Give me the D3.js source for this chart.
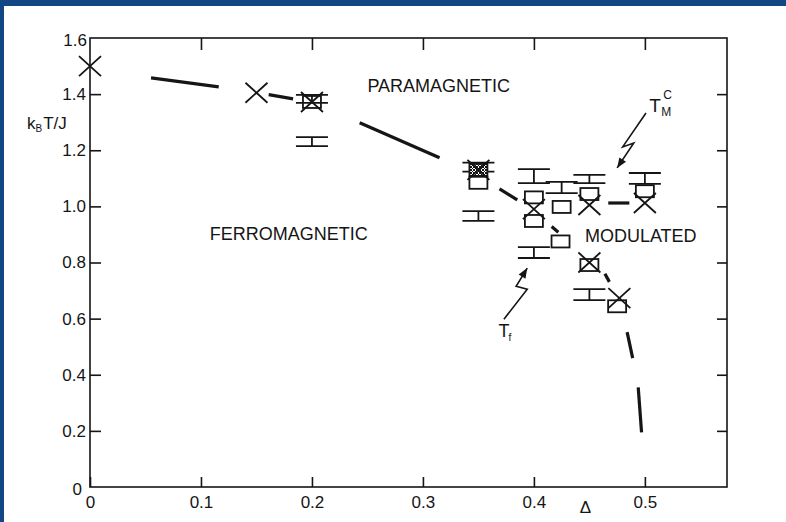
<!DOCTYPE html>
<html>
<head>
<meta charset="utf-8">
<script src="https://cdn.jsdelivr.net/npm/d3@7"></script>
<style>
  body { margin: 0; background: #124785; }
  svg { display: block; }
  text { font-family: "Liberation Sans", Arial, sans-serif; fill: #151515; }
</style>
</head>
<body>
<div id="chart"></div>
<script>
// axis ticks
var xTicks = [0, 0.1, 0.2, 0.3, 0.4, 0.5];
var xTickLabels = ["0", "0.1", "0.2", "0.3", "0.4", "0.5"];
var yTicks = [0, 0.2, 0.4, 0.6, 0.8, 1.0, 1.2, 1.4, 1.6];
var yTickLabels = ["0", "0.2", "0.4", "0.6", "0.8", "1.0", "1.2", "1.4", "1.6"];

// crosses (Delta, kT/J)
var crossD = [0, 0.15, 0.2, 0.35, 0.4, 0.45, 0.45, 0.477, 0.5];
var crossT = [1.50, 1.405, 1.372, 1.13, 0.99, 1.005, 0.80, 0.673, 1.012];

// squares (hatched = dense square at 0.35)
var squareD = [0.2, 0.35, 0.35, 0.4, 0.4, 0.425, 0.424, 0.45, 0.45, 0.475, 0.5];
var squareT = [1.372, 1.13, 1.084, 1.032, 0.948, 0.998, 0.875, 1.044, 0.791, 0.644, 1.054];
var squareHatched = [false, true, false, false, false, false, false, false, false, false, false];

// error bars
var errD = [0.2, 0.2, 0.35, 0.35, 0.4, 0.4, 0.425, 0.45, 0.45, 0.5];
var errLo = [1.369, 1.215, 1.124, 0.948, 1.083, 0.816, 1.047, 1.083, 0.666, 1.080];
var errHi = [1.397, 1.247, 1.156, 0.983, 1.133, 0.855, 1.087, 1.112, 0.705, 1.119];

// dashed phase boundary pieces [d1, T1, d2, T2]
var boundary = [
  [0.055, 1.458, 0.116, 1.426],
  [0.161, 1.398, 0.183, 1.383],
  [0.243, 1.298, 0.315, 1.173],
  [0.369, 1.062, 0.385, 1.023],
  [0.416, 0.928, 0.422, 0.908],
  [0.464, 0.760, 0.468, 0.731],
  [0.467, 1.012, 0.486, 1.012],
  [0.484, 0.552, 0.489, 0.459],
  [0.494, 0.355, 0.497, 0.195]
];

// region labels
var regionNames = ["PARAMAGNETIC", "FERROMAGNETIC", "MODULATED"];
var regionD = [0.250, 0.108, 0.446];
var regionT = [1.408, 0.880, 0.873];

// lightning arrows
var arrowTM = [[0.501, 1.333], [0.480, 1.212], [0.490, 1.226], [0.475, 1.137]];
var arrowTf = [[0.373, 0.598], [0.394, 0.705], [0.384, 0.715], [0.394, 0.780]];

var svgWidth = 786;
var svgHeight = 522;
var margin = { top: 38, right: 59, bottom: 35, left: 90 };
var width = svgWidth - margin.left - margin.right;
var height = svgHeight - margin.top - margin.bottom;

var svg = d3.select("#chart")
  .append("svg")
  .attr("width", svgWidth)
  .attr("height", svgHeight);

// hatch pattern for the dense square
var pat = svg.append("defs").append("pattern")
  .attr("id", "hatch").attr("patternUnits", "userSpaceOnUse")
  .attr("width", 3).attr("height", 3);
pat.append("rect").attr("width", 3).attr("height", 3).attr("fill", "#fff");
pat.append("path").attr("d", "M0,0L3,3M3,0L0,3").attr("stroke", "#151515").attr("stroke-width", 1);

// blue slide frame + white page
svg.append("rect").attr("width", svgWidth).attr("height", svgHeight).attr("fill", "#124785");
svg.append("rect").attr("x", 4).attr("y", 6)
  .attr("width", svgWidth - 4).attr("height", svgHeight - 6).attr("fill", "#fff");

var chartGroup = svg.append("g")
  .attr("transform", `translate(${margin.left}, ${margin.top})`);

var xScale = d3.scaleLinear().domain([0, 0.574]).range([0, width]);
var yScale = d3.scaleLinear().domain([0, 1.6]).range([height, 0]);

var ink = "#151515";

// axes, ticks pointing inward
var bottomAxis = d3.axisBottom(xScale).tickValues(xTicks).tickSize(-10).tickSizeOuter(0)
  .tickPadding(9).tickFormat((d, i) => xTickLabels[i]);
var topAxis = d3.axisTop(xScale).tickValues(xTicks.slice(1)).tickSize(-12).tickSizeOuter(0)
  .tickFormat("");
var leftAxis = d3.axisLeft(yScale).tickValues(yTicks.slice(1, -1)).tickSize(-11).tickSizeOuter(0)
  .tickPadding(4).tickFormat((d, i) => yTickLabels[i + 1]);
var rightAxis = d3.axisRight(yScale).tickValues(yTicks.slice(1, -1)).tickSize(-10).tickSizeOuter(0)
  .tickFormat("");

function styleAxis(g) {
  g.select(".domain").remove();
  g.selectAll("line").attr("stroke", ink).attr("stroke-width", 1.6);
  g.selectAll("text").attr("font-size", 17).attr("fill", ink)
    .attr("font-family", "'Liberation Sans', Arial, sans-serif");
}

chartGroup.append("g").attr("transform", `translate(0, ${height})`).call(bottomAxis).call(styleAxis);
chartGroup.append("g").call(topAxis).call(styleAxis);
chartGroup.append("g").call(leftAxis).call(styleAxis);
chartGroup.append("g").attr("transform", `translate(${width}, 0)`).call(rightAxis).call(styleAxis);

// y labels for 0 and 1.6 at the corners
chartGroup.append("text").attr("x", -8).attr("y", yScale(0) + 8)
  .attr("text-anchor", "end").attr("font-size", 17).text(yTickLabels[0]);
chartGroup.append("text").attr("x", -3).attr("y", yScale(1.6) + 8)
  .attr("text-anchor", "end").attr("font-size", 17).text(yTickLabels[8]);

// frame
chartGroup.append("rect")
  .attr("width", width).attr("height", height)
  .attr("fill", "none").attr("stroke", ink).attr("stroke-width", 1.6);

// axis titles
chartGroup.append("text")
  .attr("x", xScale(0.4465)).attr("y", height + 26)
  .attr("text-anchor", "middle").attr("font-size", 17).text("Δ");

var yTitle = chartGroup.append("text")
  .attr("x", -63).attr("y", yScale(1.4) + 35).attr("font-size", 17);
yTitle.append("tspan").text("k");
yTitle.append("tspan").attr("font-size", 10).attr("dy", 3).text("B");
yTitle.append("tspan").attr("dy", -3).attr("dx", 1).text("T/J");

// dashed boundary
chartGroup.selectAll(".seg")
  .data(boundary)
  .enter()
  .append("line")
  .attr("class", "seg")
  .attr("x1", d => xScale(d[0])).attr("y1", d => yScale(d[1]))
  .attr("x2", d => xScale(d[2])).attr("y2", d => yScale(d[3]))
  .attr("stroke", ink).attr("stroke-width", 3.2);

// error bars
var errGroup = chartGroup.selectAll(".err")
  .data(errD)
  .enter()
  .append("g")
  .attr("class", "err")
  .attr("transform", d => `translate(${xScale(d)}, 0)`);

errGroup.append("line")
  .attr("y1", (d, i) => yScale(errLo[i])).attr("y2", (d, i) => yScale(errHi[i]))
  .attr("stroke", ink).attr("stroke-width", 1.8);
errGroup.append("line")
  .attr("x1", -16).attr("x2", 16)
  .attr("y1", (d, i) => yScale(errLo[i])).attr("y2", (d, i) => yScale(errLo[i]))
  .attr("stroke", ink).attr("stroke-width", 1.8);
errGroup.append("line")
  .attr("x1", -16).attr("x2", 16)
  .attr("y1", (d, i) => yScale(errHi[i])).attr("y2", (d, i) => yScale(errHi[i]))
  .attr("stroke", ink).attr("stroke-width", 1.8);

// squares
chartGroup.selectAll(".sq")
  .data(squareD)
  .enter()
  .append("rect")
  .attr("class", "sq")
  .attr("x", d => xScale(d) - 9)
  .attr("y", (d, i) => yScale(squareT[i]) - 6)
  .attr("width", 18).attr("height", 12)
  .attr("fill", (d, i) => squareHatched[i] ? "url(#hatch)" : "none")
  .attr("stroke", ink).attr("stroke-width", 1.8);

// crosses
var crossGroup = chartGroup.selectAll(".cross")
  .data(crossD)
  .enter()
  .append("g")
  .attr("class", "cross")
  .attr("transform", (d, i) => `translate(${xScale(d)}, ${yScale(crossT[i])})`);
crossGroup.append("path")
  .attr("d", "M-11,-10L11,10M-11,10L11,-10")
  .attr("stroke", ink).attr("stroke-width", 1.8).attr("fill", "none");

// region labels
chartGroup.selectAll(".region")
  .data(regionNames)
  .enter()
  .append("text")
  .attr("class", "region")
  .attr("x", (d, i) => xScale(regionD[i]))
  .attr("y", (d, i) => yScale(regionT[i]))
  .attr("font-size", 18)
  .text(d => d);

// lightning arrows
function lightning(pts) {
  var line = d3.line().x(p => xScale(p[0])).y(p => yScale(p[1]));
  chartGroup.append("path").attr("d", line(pts))
    .attr("fill", "none").attr("stroke", ink).attr("stroke-width", 1.6);
  var a = pts[pts.length - 2], b = pts[pts.length - 1];
  var x1 = xScale(a[0]), y1 = yScale(a[1]), x2 = xScale(b[0]), y2 = yScale(b[1]);
  var ang = Math.atan2(y2 - y1, x2 - x1) * 180 / Math.PI;
  chartGroup.append("path").attr("d", "M0,0L-10,-4L-10,4Z")
    .attr("transform", `translate(${x2}, ${y2}) rotate(${ang})`)
    .attr("fill", ink);
}
lightning(arrowTM);
lightning(arrowTf);

// T_M^C and T_f labels
var tm = chartGroup.append("g")
  .attr("transform", `translate(${xScale(0.504)}, ${yScale(1.337)})`);
tm.append("text").attr("font-size", 19).text("T");
tm.append("text").attr("x", 12).attr("y", 4).attr("font-size", 12).text("M");
tm.append("text").attr("x", 14).attr("y", -13).attr("font-size", 12).text("C");

var tf = chartGroup.append("g")
  .attr("transform", `translate(${xScale(0.368)}, ${yScale(0.534)})`);
tf.append("text").attr("font-size", 18).text("T");
tf.append("text").attr("x", 10).attr("y", 4).attr("font-size", 10).text("f");
</script>
</body>
</html>
